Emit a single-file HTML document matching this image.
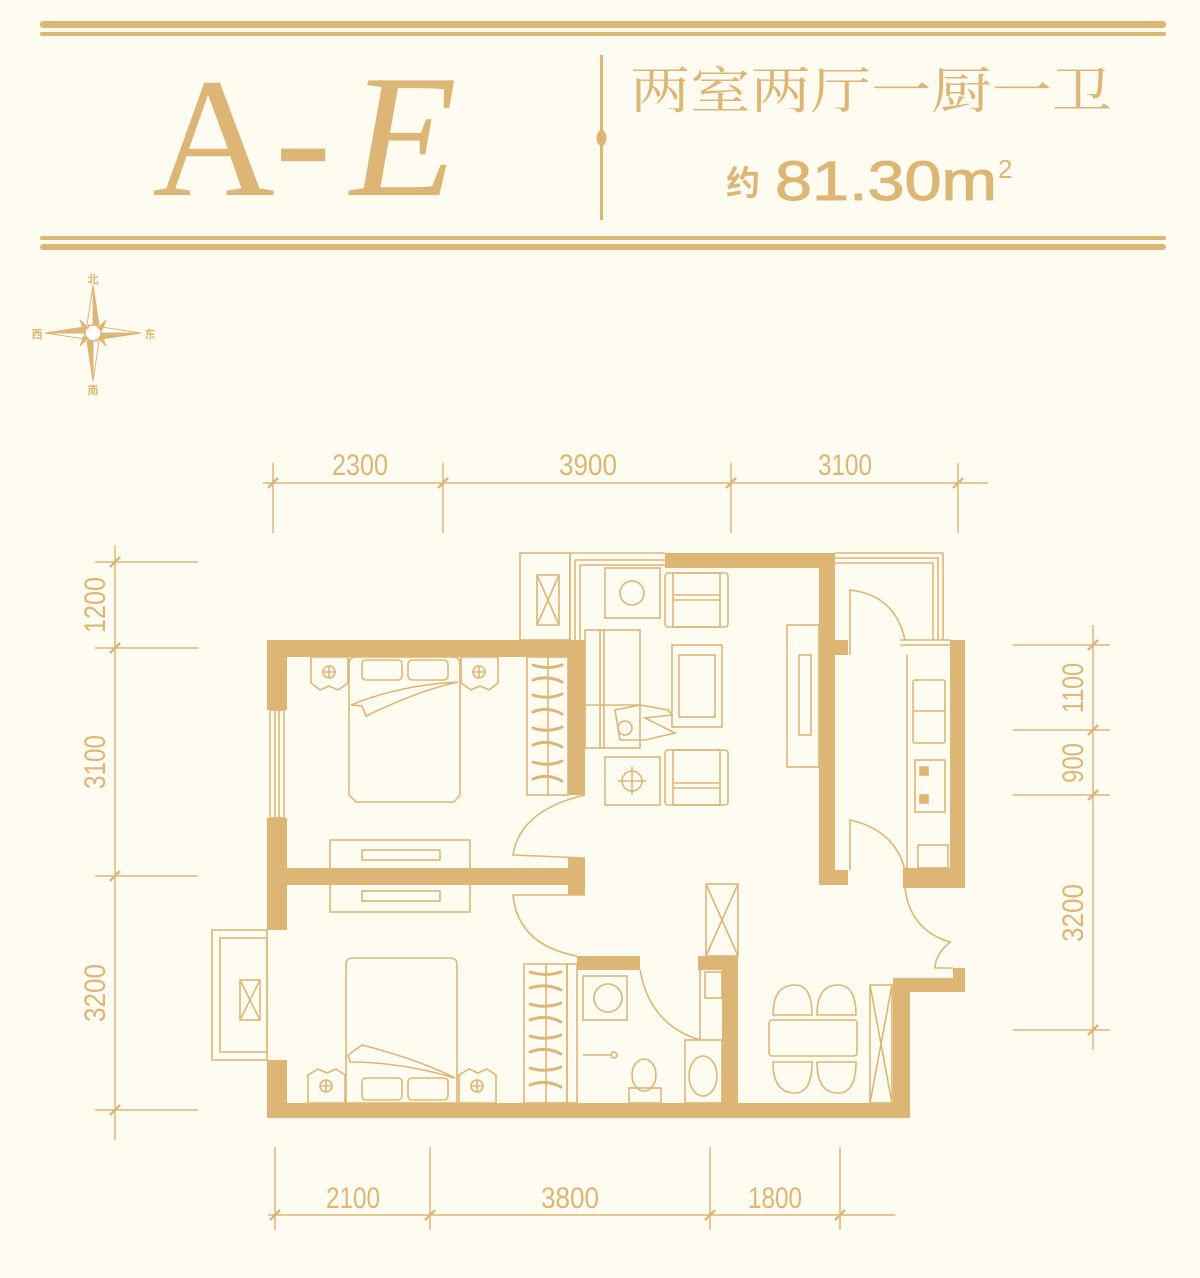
<!DOCTYPE html>
<html><head><meta charset="utf-8"><style>
html,body{margin:0;padding:0;background:#fefcf0;}
body{width:1200px;height:1278px;overflow:hidden;position:relative;font-family:"Liberation Sans","Noto Sans CJK SC",sans-serif;}
svg{position:absolute;left:0;top:0;}
</style></head><body>
<svg width="1200" height="1278" viewBox="0 0 1200 1278" xmlns="http://www.w3.org/2000/svg">
<g fill="#ddb676">
<rect x="40" y="21" width="1126" height="7" rx="3"/>
<rect x="40" y="32" width="1126" height="4" rx="2"/>
<rect x="40" y="236" width="1126" height="4" rx="2"/>
<rect x="40" y="244" width="1126" height="6" rx="3"/>
<rect x="600" y="55" width="3" height="165"/>
<ellipse cx="601.5" cy="138" rx="5" ry="8"/>
</g>
<text x="152" y="195" font-family="Liberation Serif,serif" font-size="170" fill="#ddb676">A-</text>
<text x="350" y="195" font-family="Liberation Serif,serif" font-style="italic" font-size="175" fill="#ddb676">E</text>
<text x="630" y="108" font-family="Noto Serif CJK SC,serif" font-size="50" fill="#ddb676" textLength="482" lengthAdjust="spacingAndGlyphs">两室两厅一厨一卫</text>
<text x="726" y="195" font-family="Noto Sans CJK SC,sans-serif" font-weight="bold" font-size="34" fill="#ddb676">约</text>
<text x="775" y="200" font-family="Liberation Sans,sans-serif" font-size="56" fill="#ddb676" stroke="#ddb676" stroke-width="1" textLength="222" lengthAdjust="spacingAndGlyphs">81.30m</text>
<text x="998" y="178" font-family="Liberation Sans,sans-serif" font-size="26" fill="#ddb676">2</text>

<!-- compass -->
<g fill="#ddb676" stroke="#ddb676">
<circle cx="93" cy="333" r="8" fill="#fff" stroke-width="1.5"/>
<path d="M93 285 L99 325 L93 325Z M93 381 L87 341 L93 341Z M45 333 L85 327 L85 333Z M141 333 L101 339 L101 333Z" stroke-width="1"/>
<path d="M93 285 L87 325 L93 325Z M93 381 L99 341 L93 341Z M45 333 L85 339 L85 333Z M141 333 L101 327 L101 333Z" fill="#fff" stroke-width="1"/>
<path d="M80 320 L88 328 L84 330Z M106 320 L98 328 L102 330Z M80 346 L88 338 L84 336Z M106 346 L98 338 L102 336Z" stroke-width="1"/>
</g>
<g font-family="Noto Sans CJK SC,sans-serif" font-weight="bold" font-size="11" fill="#ddb676" text-anchor="middle">
<text x="93" y="283">北</text><text x="93" y="394">南</text><text x="37" y="338">西</text><text x="150" y="338">东</text>
</g>

<!-- dimensions -->
<g stroke="#ddb676" stroke-width="1.5" fill="none">
<line x1="263" y1="483" x2="988" y2="483"/>
<line x1="273" y1="463" x2="273" y2="533"/><line x1="443" y1="463" x2="443" y2="533"/><line x1="731" y1="463" x2="731" y2="533"/><line x1="958" y1="463" x2="958" y2="533"/>
<line x1="115" y1="545" x2="115" y2="1140"/>
<line x1="95" y1="562" x2="198" y2="562"/><line x1="95" y1="648" x2="198" y2="648"/><line x1="95" y1="876" x2="198" y2="876"/><line x1="95" y1="1110" x2="198" y2="1110"/>
<line x1="1093" y1="625" x2="1093" y2="1050"/>
<line x1="1013" y1="645" x2="1110" y2="645"/><line x1="1013" y1="730" x2="1110" y2="730"/><line x1="1013" y1="795" x2="1110" y2="795"/><line x1="1013" y1="1030" x2="1110" y2="1030"/>
<line x1="268" y1="1215" x2="895" y2="1215"/>
<line x1="275" y1="1147" x2="275" y2="1230"/><line x1="430" y1="1147" x2="430" y2="1230"/><line x1="710" y1="1147" x2="710" y2="1230"/><line x1="840" y1="1147" x2="840" y2="1230"/>
</g>
<g stroke="#ddb676" stroke-width="2.5">
<line x1="268" y1="488" x2="278" y2="478"/><line x1="438" y1="488" x2="448" y2="478"/><line x1="726" y1="488" x2="736" y2="478"/><line x1="953" y1="488" x2="963" y2="478"/>
<line x1="110" y1="567" x2="120" y2="557"/><line x1="110" y1="653" x2="120" y2="643"/><line x1="110" y1="881" x2="120" y2="871"/><line x1="110" y1="1115" x2="120" y2="1105"/>
<line x1="1088" y1="650" x2="1098" y2="640"/><line x1="1088" y1="735" x2="1098" y2="725"/><line x1="1088" y1="800" x2="1098" y2="790"/><line x1="1088" y1="1035" x2="1098" y2="1025"/>
<line x1="270" y1="1220" x2="280" y2="1210"/><line x1="425" y1="1220" x2="435" y2="1210"/><line x1="705" y1="1220" x2="715" y2="1210"/><line x1="835" y1="1220" x2="845" y2="1210"/>
</g>
<g font-family="Liberation Sans Narrow,Liberation Sans,sans-serif" font-size="30" fill="#ddb676" text-anchor="middle">
<text x="360" y="475" textLength="56" lengthAdjust="spacingAndGlyphs">2300</text>
<text x="588" y="475" textLength="58" lengthAdjust="spacingAndGlyphs">3900</text>
<text x="845" y="475" textLength="54" lengthAdjust="spacingAndGlyphs">3100</text>
<text x="353" y="1208" textLength="54" lengthAdjust="spacingAndGlyphs">2100</text>
<text x="570" y="1208" textLength="58" lengthAdjust="spacingAndGlyphs">3800</text>
<text x="775" y="1208" textLength="54" lengthAdjust="spacingAndGlyphs">1800</text>
<text transform="translate(105,605) rotate(-90)" textLength="56" lengthAdjust="spacingAndGlyphs">1200</text>
<text transform="translate(105,762) rotate(-90)" textLength="54" lengthAdjust="spacingAndGlyphs">3100</text>
<text transform="translate(105,993) rotate(-90)" textLength="58" lengthAdjust="spacingAndGlyphs">3200</text>
<text transform="translate(1083,688) rotate(-90)" textLength="50" lengthAdjust="spacingAndGlyphs">1100</text>
<text transform="translate(1083,763) rotate(-90)" textLength="40" lengthAdjust="spacingAndGlyphs">900</text>
<text transform="translate(1083,913) rotate(-90)" textLength="58" lengthAdjust="spacingAndGlyphs">3200</text>
</g>

<!-- walls -->
<g fill="#ddb676">
<rect x="267" y="640" width="318" height="17"/>
<rect x="267" y="640" width="20" height="70"/>
<rect x="267" y="818" width="20" height="112"/>
<rect x="267" y="1060" width="20" height="58"/>
<rect x="267" y="1103" width="643" height="15"/>
<rect x="267" y="868" width="305" height="17"/>
<rect x="568" y="858" width="17" height="37"/>
<rect x="568" y="640" width="17" height="155"/>
<rect x="665" y="553" width="170" height="15"/>
<rect x="819" y="553" width="16" height="332"/>
<rect x="835" y="640" width="13" height="15"/>
<rect x="835" y="870" width="13" height="15"/>
<rect x="950" y="640" width="15" height="248"/>
<rect x="903" y="868" width="62" height="20"/>
<rect x="953" y="968" width="12" height="24"/>
<rect x="893" y="978" width="72" height="14"/>
<rect x="893" y="978" width="17" height="140"/>
<rect x="577" y="956" width="63" height="14"/>
<rect x="698" y="956" width="40" height="14"/>
<rect x="722" y="956" width="16" height="162"/>
</g>
<g stroke="#ddb676" stroke-width="1.6" fill="none">
<!-- windows -->
<rect x="270" y="710" width="14" height="108"/><line x1="275" y1="710" x2="275" y2="818"/><line x1="279" y1="710" x2="279" y2="818"/>
<rect x="212" y="930" width="55" height="130"/><rect x="220" y="938" width="47" height="114"/>
<rect x="240" y="980" width="20" height="40"/><path d="M240 980 L260 1020 M260 980 L240 1020"/>
<!-- balconies -->
<rect x="520" y="553" width="50" height="87"/><rect x="537" y="575" width="22" height="50"/><path d="M537 575 L559 625 M559 575 L537 625"/>
<path d="M570 553 H665 M575 560 H665 M580 565 H665 M570 553 V640 M575 560 V640 M580 565 V640"/>
<path d="M835 553 H943 V640 M835 558 H938 V640 M835 563 H933 V640 M900 640 H950 M900 645 H950"/>
<!-- bedroom 1 -->
<path d="M349 664 Q349 657 356 657 H453 Q460 657 460 664 V795 L454 802 H356 L349 795Z"/>
<rect x="362" y="660" width="40" height="20" rx="4"/><rect x="408" y="660" width="40" height="20" rx="4"/>
<path d="M351 705 Q400 685 458 682 Q420 690 366 716 L362 706Z"/>
<path d="M311 657 H348 V683 L338 690 L329 686 L320 690 L311 683Z"/><path d="M461 657 H498 V683 L489 690 L480 686 L471 690 L461 683Z"/>
<circle cx="329" cy="672" r="6"/><circle cx="479" cy="672" r="6"/><path d="M323 672 H335 M329 666 V678 M473 672 H485 M479 666 V678"/>
<rect x="527" y="657" width="41" height="138"/><line x1="548" y1="657" x2="548" y2="795"/>
<!-- bedroom 2 -->
<path d="M346 965 Q346 958 353 958 H450 Q457 958 457 965 V1103 H346Z"/>
<rect x="362" y="1078" width="40" height="22" rx="4"/><rect x="408" y="1078" width="40" height="22" rx="4"/>
<path d="M348 1055 L362 1045 Q420 1060 455 1078 Q400 1062 350 1062Z"/>
<path d="M308 1103 H345 V1075 L336 1069 L327 1073 L318 1069 L308 1075Z"/><path d="M459 1103 H496 V1075 L487 1069 L478 1073 L469 1069 L459 1075Z"/>
<circle cx="326" cy="1086" r="6"/><circle cx="477" cy="1086" r="6"/><path d="M320 1086 H332 M326 1080 V1092 M471 1086 H483 M477 1080 V1092"/>
<rect x="524" y="964" width="43" height="139"/><line x1="546" y1="964" x2="546" y2="1103"/>
<rect x="567" y="964" width="10" height="139"/>
<!-- desk -->
<rect x="330" y="840" width="140" height="72"/><rect x="362" y="850" width="78" height="10"/><rect x="362" y="891" width="78" height="10"/>
<!-- living -->
<rect x="605" y="568" width="55" height="50"/><circle cx="632" cy="593" r="12"/>
<rect x="665" y="573" width="63" height="54" rx="3"/><rect x="673" y="573" width="47" height="54"/><line x1="673" y1="595" x2="720" y2="595"/><line x1="673" y1="600" x2="720" y2="600"/>
<rect x="585" y="630" width="55" height="118"/><line x1="600" y1="630" x2="600" y2="748"/><line x1="604" y1="630" x2="604" y2="748"/><line x1="585" y1="705" x2="640" y2="705"/>
<rect x="672" y="645" width="50" height="82"/><rect x="679" y="655" width="36" height="62"/>
<path d="M615 710 L640 705 L668 710 L672 715 L645 718 L675 733 L645 740 L620 740Z"/><circle cx="625" cy="728" r="7"/>
<rect x="605" y="757" width="55" height="48"/><circle cx="632" cy="781" r="10"/><path d="M618 781 H646 M632 767 V795"/>
<rect x="665" y="750" width="63" height="55" rx="3"/><rect x="673" y="750" width="47" height="55"/><line x1="673" y1="783" x2="720" y2="783"/><line x1="673" y1="788" x2="720" y2="788"/>
<!-- TV -->
<rect x="787" y="625" width="32" height="142"/><rect x="799" y="655" width="12" height="80"/>
<!-- doors -->
<path d="M585 795 Q520 810 513 855 L585 858"/>
<path d="M585 895 L513 895 Q518 945 577 956"/>
<path d="M640 970 Q650 1025 700 1040 L700 970"/>
<path d="M850 655 V590 Q895 595 905 640"/>
<path d="M850 870 V820 Q895 830 905 870"/>
<path d="M905 888 Q910 930 950 942 Q935 955 935 968 L953 968"/>
<!-- kitchen -->
<line x1="907" y1="655" x2="907" y2="868"/>
<rect x="913" y="680" width="32" height="63" rx="2"/><line x1="913" y1="711" x2="945" y2="711"/>
<rect x="915" y="760" width="30" height="52"/><rect x="920" y="767" width="8" height="8" fill="#ddb676"/><rect x="920" y="795" width="8" height="8" fill="#ddb676"/>
<rect x="918" y="845" width="30" height="23"/>
<!-- duct -->
<rect x="706" y="884" width="32" height="72"/><path d="M706 884 L738 956 M738 884 L706 956"/>
<!-- bathroom -->
<rect x="583" y="976" width="44" height="44"/><circle cx="608" cy="998" r="14"/>
<line x1="583" y1="1055" x2="612" y2="1055"/><circle cx="614" cy="1055" r="3"/>
<ellipse cx="644" cy="1075" rx="12" ry="16"/><rect x="629" y="1088" width="32" height="15"/>
<rect x="685" y="1040" width="37" height="63"/><ellipse cx="703" cy="1076" rx="14" ry="20"/>
<rect x="705" y="972" width="17" height="26"/>
<!-- dining -->
<rect x="769" y="1020" width="88" height="36" rx="3"/>
<path d="M773 1015 Q773 985 795 985 Q812 985 812 1015Z M817 1015 Q817 985 838 985 Q856 985 856 1015Z"/>
<path d="M773 1062 Q773 1093 795 1093 Q812 1093 812 1062Z M817 1062 Q817 1093 838 1093 Q856 1093 856 1062Z"/>
<rect x="870" y="985" width="22" height="118"/><path d="M870 985 L892 1103 M892 985 L870 1103"/>
</g>
<!-- hangers -->
<g stroke="#ddb676" stroke-width="3" fill="none" stroke-linecap="round">
<path d="M533 665 Q548 670 562 665 M533 680 Q548 675 562 682 M533 695 Q548 700 562 694 M533 712 Q548 706 562 714 M533 728 Q548 733 562 727 M533 745 Q548 739 562 747 M533 762 Q548 767 562 761 M533 779 Q548 773 562 781"/>
<path d="M530 972 Q546 977 561 972 M530 988 Q546 983 561 990 M530 1004 Q546 1009 561 1003 M530 1020 Q546 1014 561 1022 M530 1036 Q546 1041 561 1035 M530 1052 Q546 1046 561 1054 M530 1068 Q546 1073 561 1067 M530 1085 Q546 1079 561 1087"/>
</g>
</svg>
</body></html>
